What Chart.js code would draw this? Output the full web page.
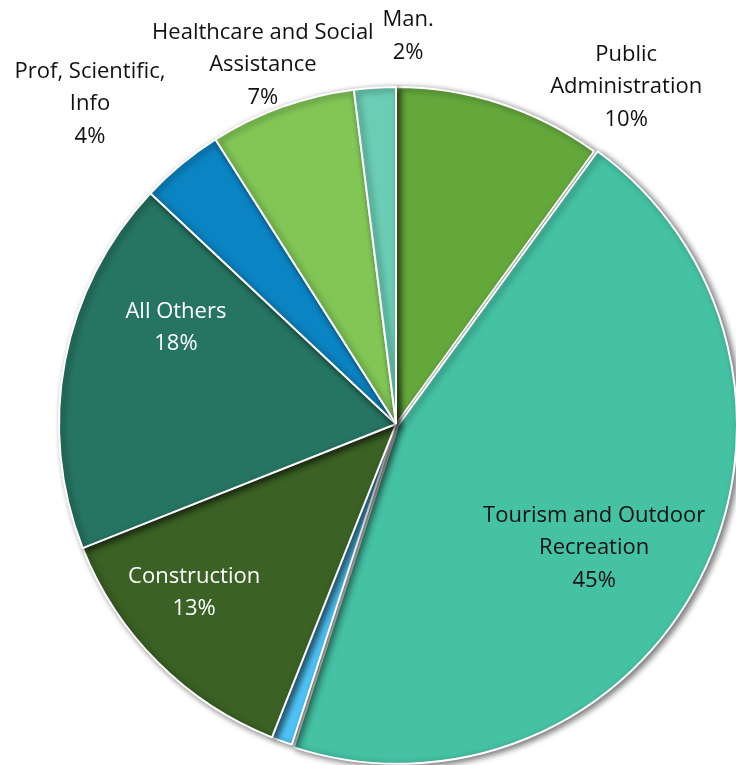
<!DOCTYPE html>
<html>
<head>
<meta charset="utf-8">
<script src="https://cdn.jsdelivr.net/npm/chart.js@4"></script>
<style>
html,body{margin:0;padding:0;background:#fff;}
#wrap{width:736px;height:765px;position:relative;}
</style>
</head>
<body>
<div id="wrap"><canvas id="c"></canvas></div>
<script>
const categories = ["Public Administration","Tourism and Outdoor Recreation","Other","Construction","All Others","Prof, Scientific, Info","Healthcare and Social Assistance","Man."];
const labelLines = [["Public","Administration","10%"],["Tourism and Outdoor","Recreation","45%"],[],["Construction","13%"],["All Others","18%"],["Prof, Scientific,","Info","4%"],["Healthcare and Social","Assistance","7%"],["Man.","2%"]];
const values = [10,45,1,13,18,4,7,2];
const colors = ["#64A83C","#45C1A4","#4FC3F7","#3B6124","#267462","#0B84C3","#82C656","#6ACDB4"];
const offsets = [0,10,0,0,0,0,0,0];
const labelColors = ["#111","#111","#111","#fff","#fff","#111","#111","#111"];
// label anchor relative to pie center, in units of radius
const labelPos = [[0.683,-1.0],[0.588,0.368],[0,0],[-0.599,0.501],[-0.653,-0.285],[-0.908,-0.950],[-0.395,-1.065],[0.036,-1.151]];

const shadowPlugin = {
  id:'shadow',
  beforeDatasetsDraw(chart){
    const ctx = chart.ctx;
    ctx.save();
    ctx.shadowColor = 'rgba(0,0,0,0.55)';
    ctx.shadowBlur = 6;
    ctx.shadowOffsetX = 3;
    ctx.shadowOffsetY = 2;
  },
  afterDatasetsDraw(chart){
    chart.ctx.restore();
  }
};

const labelPlugin = {
  id:'sliceLabels',
  afterDraw(chart){
    const ctx = chart.ctx;
    const meta = chart.getDatasetMeta(0);
    const arc0 = meta.data[0];
    const cx = arc0.x, cy = arc0.y, R = arc0.outerRadius;
    ctx.save();
    ctx.font = '22px "Open Sans", sans-serif';
    ctx.textAlign = 'center';
    ctx.textBaseline = 'middle';
    const lh = 32.5;
    labelLines.forEach((lines,i)=>{
      if(!lines.length) return;
      const x = cx + labelPos[i][0]*R;
      const y = cy + labelPos[i][1]*R;
      ctx.fillStyle = labelColors[i];
      const n = lines.length;
      lines.forEach((t,j)=>{
        ctx.fillText(t, x, y + (j-(n-1)/2)*lh);
      });
    });
    ctx.restore();
  }
};

new Chart(document.getElementById('c'),{
  type:'pie',
  data:{
    labels:categories,
    datasets:[{
      data:values,
      backgroundColor:colors,
      borderColor:'#ffffff',
      borderWidth:2,
      offset:offsets
    }]
  },
  options:{
    responsive:true,
    maintainAspectRatio:false,
    animation:false,
    radius:337,
    layout:{padding:{left:56,right:0,top:83,bottom:0}},
    plugins:{legend:{display:false},tooltip:{enabled:false}}
  },
  plugins:[shadowPlugin,labelPlugin]
});
</script>
</body>
</html>
